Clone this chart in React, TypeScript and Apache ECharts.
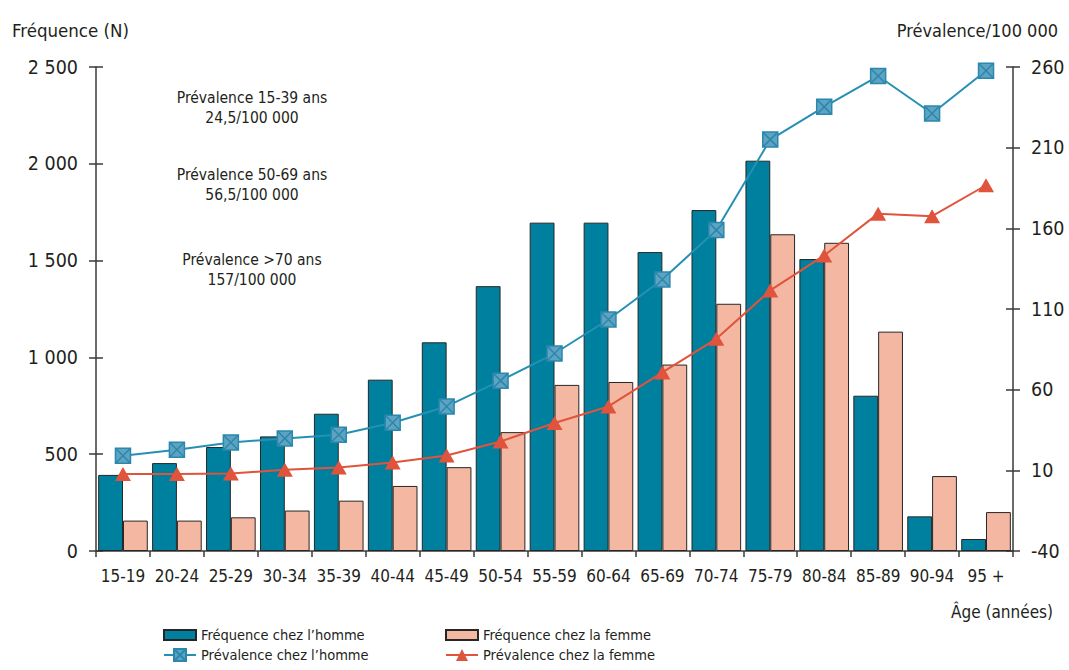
import React, { useEffect, useRef } from "react";
import * as echarts from "echarts";

const categories = ["15-19", "20-24", "25-29", "30-34", "35-39", "40-44", "45-49", "50-54", "55-59", "60-64", "65-69", "70-74", "75-79", "80-84", "85-89", "90-94", "95 +"];
const freqHomme = [393, 454, 537, 592, 709, 885, 1078, 1368, 1696, 1696, 1544, 1761, 2016, 1508, 802, 179, 62];
const freqFemme = [157, 157, 174, 209, 260, 336, 433, 614, 858, 873, 963, 1277, 1636, 1592, 1133, 387, 201];
const prevHomme = [19, 22.7, 27.3, 29.8, 32, 39.5, 49.6, 65.6, 82.4, 103.5, 128.3, 158.9, 215, 235.3, 254.4, 231.2, 257.7];
const prevFemme = [7.8, 7.8, 8, 10.3, 11.7, 14.8, 19.2, 27.9, 39.3, 49.6, 70.7, 91.5, 121.5, 143.2, 169.1, 167.5, 186.7];
const rightTicks = [-40, 10, 60, 110, 160, 210, 260];
const annotations = [
  ["Prévalence 15-39 ans", "24,5/100 000"],
  ["Prévalence 50-69 ans", "56,5/100 000"],
  ["Prévalence >70 ans", "157/100 000"],
];

const FONT = "'DejaVu Sans Condensed', 'Liberation Sans Narrow', sans-serif";
const TXT = "#231f20";
const AX = "#3a3a3a";

const fmtThousands = (v: number) => {
  if (v >= 1000) {
    const k = Math.floor(v / 1000);
    const r = String(v % 1000).padStart(3, "0");
    return `${k} ${r}`;
  }
  return String(v);
};

const SQX = "path://M0 0H10V10H0Z M0 0L10 10 M10 0L0 10";

export default function App() {
  const ref = useRef<HTMLDivElement>(null);
  useEffect(() => {
    if (!ref.current) return;
    const chart = echarts.init(ref.current, null, { renderer: "svg" });
    const annY = [108, 185, 270];
    const annTexts = annotations.map((lines, i) => ({
      type: "text",
      x: 252,
      y: annY[i],
      style: {
        text: lines.join("\n"),
        textAlign: "center",
        textVerticalAlign: "middle",
        font: `15.5px ${FONT}`,
        lineHeight: 20,
        fill: TXT,
      },
    }));
    const titles = [
      { type: "text", x: 12, y: 30, style: { text: "Fréquence (N)", textAlign: "left", textVerticalAlign: "middle", font: `18.5px ${FONT}`, fill: TXT } },
      { type: "text", x: 1058, y: 30, style: { text: "Prévalence/100 000", textAlign: "right", textVerticalAlign: "middle", font: `18px ${FONT}`, fill: TXT } },
      { type: "text", x: 1053, y: 612, style: { text: "Âge (années)", textAlign: "right", textVerticalAlign: "middle", font: `17px ${FONT}`, fill: TXT } },
    ];

    const legendText = { fontFamily: FONT, fontSize: 14.5, color: TXT, lineHeight: 16 };
    const mkLegend = (name: string, left: number, top: number, h: number, icon?: string) => ({
      orient: "horizontal",
      left,
      top,
      itemWidth: 32,
      itemHeight: h,
      padding: 0,
      textStyle: legendText,
      data: [icon ? { name, icon } : { name }],
    });
    chart.setOption({
      animation: false,
      grid: { left: 96, right: 56, top: 67, bottom: 119, containLabel: false },
      legend: [
        mkLegend("Fréquence chez l’homme", 163, 627, 10, "rect"),
        mkLegend("Prévalence chez l’homme", 163, 647, 15),
        mkLegend("Fréquence chez la femme", 445, 627, 10, "rect"),
        mkLegend("Prévalence chez la femme", 445, 647, 15),
      ],
      xAxis: {
        type: "category",
        data: categories,
        boundaryGap: true,
        axisLine: { lineStyle: { color: AX, width: 1.5 } },
        axisTick: { show: true, length: 6, lineStyle: { color: AX, width: 1.5 } },
        axisLabel: { fontFamily: FONT, fontSize: 17, color: TXT, margin: 16, interval: 0 },
        splitLine: { show: false },
      },
      yAxis: [
        {
          type: "value",
          min: 0,
          max: 2500,
          interval: 500,
          position: "left",
          axisLine: { show: true, lineStyle: { color: AX, width: 1.5 } },
          axisTick: { show: true, length: 7, lineStyle: { color: AX, width: 1.5 } },
          axisLabel: { fontFamily: FONT, fontSize: 19.5, color: TXT, margin: 18, formatter: fmtThousands },
          splitLine: { show: false },
        },
        {
          type: "value",
          min: -40,
          max: 260,
          position: "right",
          axisLine: { show: true, lineStyle: { color: AX, width: 1.5 } },
          axisTick: { show: true, length: 7, customValues: rightTicks, lineStyle: { color: AX, width: 1.5 } },
          axisLabel: { fontFamily: FONT, fontSize: 19.5, color: TXT, margin: 18, customValues: rightTicks },
          splitLine: { show: false },
        },
        {
          type: "value",
          min: 0,
          max: 2500,
          interval: 500,
          position: "left",
          axisLine: { show: false },
          axisTick: { show: true, inside: true, length: 7, lineStyle: { color: AX, width: 1.5 } },
          axisLabel: { show: false },
          splitLine: { show: false },
        },
        {
          type: "value",
          min: -40,
          max: 260,
          position: "right",
          axisLine: { show: false },
          axisTick: { show: true, inside: true, length: 7, customValues: rightTicks, lineStyle: { color: AX, width: 1.5 } },
          axisLabel: { show: false, customValues: rightTicks },
          splitLine: { show: false },
        },
      ],
      series: [
        {
          name: "Fréquence chez l’homme",
          type: "bar",
          yAxisIndex: 0,
          data: freqHomme,
          barGap: "0%",
          barCategoryGap: "8%",
          itemStyle: { color: "#00809f", borderColor: "#262626", borderWidth: 1 },
        },
        {
          name: "Fréquence chez la femme",
          type: "bar",
          yAxisIndex: 0,
          data: freqFemme,
          barGap: "0%",
          barCategoryGap: "8%",
          itemStyle: { color: "#f4b8a2", borderColor: "#262626", borderWidth: 1 },
        },
        {
          name: "Prévalence chez l’homme",
          type: "line",
          yAxisIndex: 1,
          data: prevHomme,
          symbol: SQX,
          symbolSize: 15,
          lineStyle: { color: "#2590b3", width: 2 },
          itemStyle: { color: "#5ea3c2", borderColor: "#2a88ad", borderWidth: 1.5 },
          z: 5,
        },
        {
          name: "Prévalence chez la femme",
          type: "line",
          yAxisIndex: 1,
          data: prevFemme,
          symbol: "triangle",
          symbolSize: [16, 14],
          lineStyle: { color: "#e0533c", width: 2 },
          itemStyle: { color: "#e0533c" },
          z: 4,
        },
      ],
      graphic: [...annTexts, ...titles],
    });
    return () => chart.dispose();
  }, []);
  return <div ref={ref} style={{ position: "absolute", left: 0, top: 0, width: "1069px", height: "670px" }} />;
}
